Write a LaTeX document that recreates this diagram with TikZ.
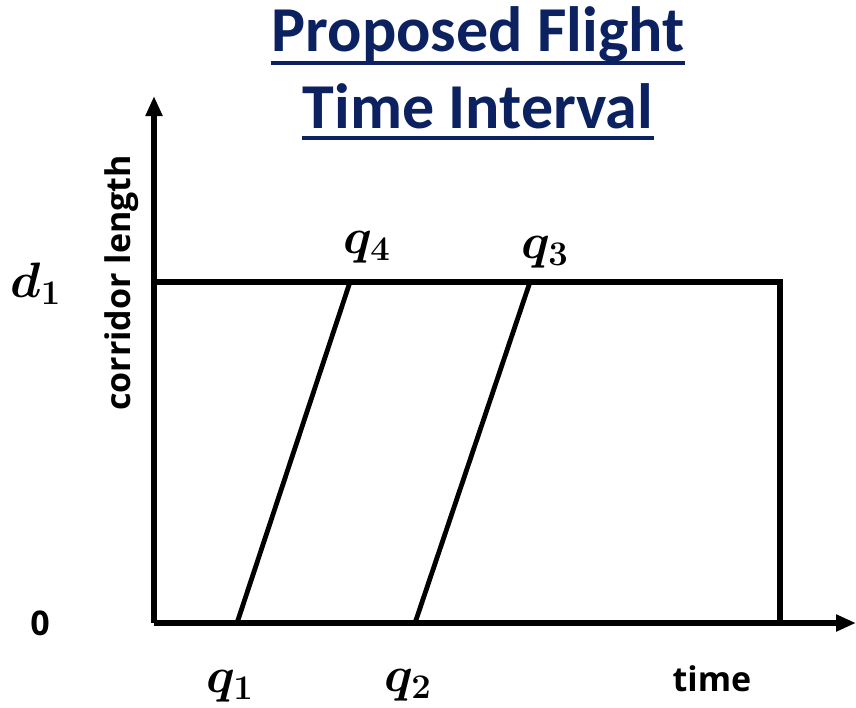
\documentclass[tikz,border=0pt]{standalone}
\usepackage{amsmath,bm}
\usepackage{fontspec}
\setsansfont{Open Sans}
\newfontfamily\titlefont{Carlito}
\usetikzlibrary{arrows.meta}
\usepackage{xcolor}
\definecolor{titleblue}{RGB}{12,33,96}

\begin{document}
\begin{tikzpicture}[x=0.5pt,y=-0.5pt,>={Triangle[length=10pt,width=8pt]},
  titletext/.style={inner sep=0pt,anchor=base,text=titleblue,font=\titlefont\bfseries\fontsize{32}{38}\selectfont},
  axislabel/.style={inner sep=0pt,font=\sffamily\bfseries\fontsize{17}{20}\selectfont},
  qlabel/.style={inner sep=0pt,anchor=base,font=\fontsize{23}{27}\selectfont}]
\useasboundingbox (0,0) rectangle (856,707);
% title
\node[titletext] (title1) at (478,51) {Proposed Flight};
\node[titletext] (title2) at (478,128) {Time Interval};
\draw[titleblue,line width=1.8pt] ([yshift=-6pt]title1.base west) -- ([yshift=-6pt]title1.base east);
\draw[titleblue,line width=1.8pt] ([yshift=-5pt]title2.base west) -- ([yshift=-5pt]title2.base east);
% axes
\coordinate (O) at (154,623);
\coordinate (ytip) at (154,96);
\coordinate (xtip) at (856,623);
\draw[->,line width=2.6pt] (O) -- (ytip);
\draw[->,line width=2.6pt] (O) -- (xtip);
% corridor box
\coordinate (D) at (154,282);
\coordinate (E) at (780,282);
\coordinate (F) at (780,623);
\draw[line width=2.6pt] (D) -- (E) -- (F);
% flight lines
\coordinate (Q1) at (237,623);
\coordinate (Q2) at (415,623);
\coordinate (Q3) at (530,282);
\coordinate (Q4) at (350,282);
\draw[line width=2.4pt] (Q1) -- (Q4);
\draw[line width=2.4pt] (Q2) -- (Q3);
% labels
\node[axislabel,rotate=90] (ylab) at (122,283) {corridor length};
\node[axislabel] (xlab) at (712,679) {time};
\node[axislabel] (zero) at (40,623) {0};
\node[qlabel] (d1) at (36,297) {$\bm{d_1}$};
\node[qlabel] (q1) at (230,692) {$\bm{q_1}$};
\node[qlabel] (q2) at (408,691) {$\bm{q_2}$};
\node[qlabel] (q3) at (545,258) {$\bm{q_3}$};
\node[qlabel] (q4) at (367,253) {$\bm{q_4}$};
\end{tikzpicture}
\end{document}
